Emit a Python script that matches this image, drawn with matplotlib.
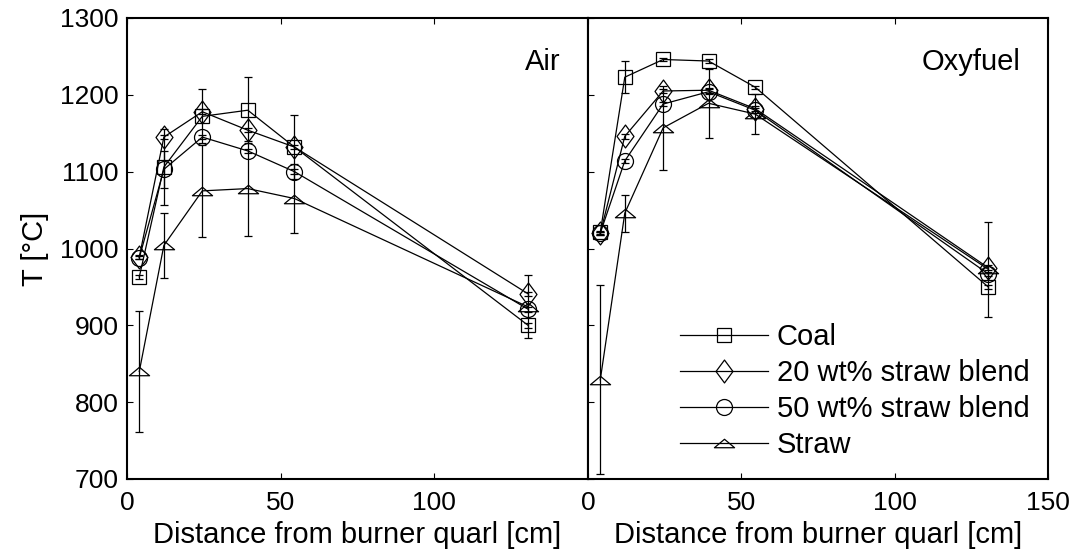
import matplotlib
matplotlib.use("Agg")
import matplotlib.pyplot as plt
from matplotlib.path import Path

plt.rcParams['font.family'] = ['Liberation Sans', 'DejaVu Sans']
plt.rcParams['font.size'] = 21

# distance from burner quarl [cm]
dist = [4, 12, 24.5, 39.3, 54.5, 130.5]

# Air
air_coal = [963, 1106, 1172, 1180, 1132, 900]
air_coal_err = [3, 50, 35, 43, 42, 3]
air_b20 = [989, 1145, 1178, 1154, 1132, 941]
air_b20_err = [3, 3, 3, 3, 3, 3]
air_b50 = [988, 1103, 1145, 1127, 1100, 921]
air_b50_err = [2, 24, 3, 3, 3, 3]
air_straw = [840, 1004, 1075, 1078, 1065, 924]
air_straw_err = [79, 42, 60, 62, 45, 41]

# Oxyfuel
oxy_coal = [1021, 1223, 1246, 1244, 1210, 950]
oxy_coal_err = [2, 21, 2, 2, 2, 3]
oxy_b20 = [1020, 1146, 1205, 1206, 1182, 975]
oxy_b20_err = [2, 3, 3, 3, 3, 3]
oxy_b50 = [1020, 1114, 1188, 1204, 1180, 967]
oxy_b50_err = [2, 3, 3, 3, 3, 3]
oxy_straw = [829, 1046, 1157, 1189, 1175, 973]
oxy_straw_err = [123, 24, 55, 45, 26, 62]

labels = ['Coal', '20 wt% straw blend', '50 wt% straw blend', 'Straw']

# matlab-ish markers
diamond = Path([(0, 1), (0.74, 0), (0, -1), (-0.74, 0), (0, 1)],
               [1, 2, 2, 2, 79])
triangle = Path([(-1, -0.42), (1, -0.42), (0, 0.42), (-1, -0.42)],
                [1, 2, 2, 79])
markers = [('s', 10), (diamond, 16.5), ('o', 11.5), (triangle, 14.5)]

fig = plt.figure(figsize=(10.78, 5.57), dpi=100)
ax1 = fig.add_axes([127/1078, 78/557, 461/1078, 461/557])
ax2 = fig.add_axes([588/1078, 78/557, 460/1078, 461/557])


def draw(ax, series, title):
    for (y, err), (m, ms), lab in zip(series, markers, labels):
        ax.errorbar(dist, y, yerr=err, fmt='none', ecolor='k',
                    elinewidth=0.9, capsize=3, capthick=0.9)
        ax.plot(dist, y, color='k', lw=0.9, marker=m, ms=ms,
                mfc='none', mec='k', mew=0.9, label=lab)
    ax.set_xlim(0, 150)
    ax.set_ylim(700, 1300)
    ax.set_xticks([0, 50, 100, 150])
    ax.set_yticks(range(700, 1301, 100))
    ax.tick_params(direction='in', length=4, width=0.8, top=True,
                   labelsize=19)
    ax.tick_params(axis='x', pad=9)
    ax.tick_params(axis='y', pad=6)
    for s in ax.spines.values():
        s.set_linewidth(1.5)
    ax.set_xlabel('Distance from burner quarl [cm]', labelpad=4)
    ax.text(0.94, 0.905, title, transform=ax.transAxes, ha='right',
            va='center')


draw(ax1, [(air_coal, air_coal_err), (air_b20, air_b20_err),
           (air_b50, air_b50_err), (air_straw, air_straw_err)], 'Air')
draw(ax2, [(oxy_coal, oxy_coal_err), (oxy_b20, oxy_b20_err),
           (oxy_b50, oxy_b50_err), (oxy_straw, oxy_straw_err)], 'Oxyfuel')

ax1.set_xticklabels(['0', '50', '100', ''])
ax1.set_ylabel('T [°C]', labelpad=8)
ax2.set_yticklabels([])
ax2.tick_params(axis='y', right=False)

ax2.legend(loc='upper left', bbox_to_anchor=(0.2, 0.338), frameon=False,
           borderpad=0, borderaxespad=0, handlelength=3.0,
           handletextpad=0.31, labelspacing=0.27)

fig.savefig('out.png', dpi=100)
